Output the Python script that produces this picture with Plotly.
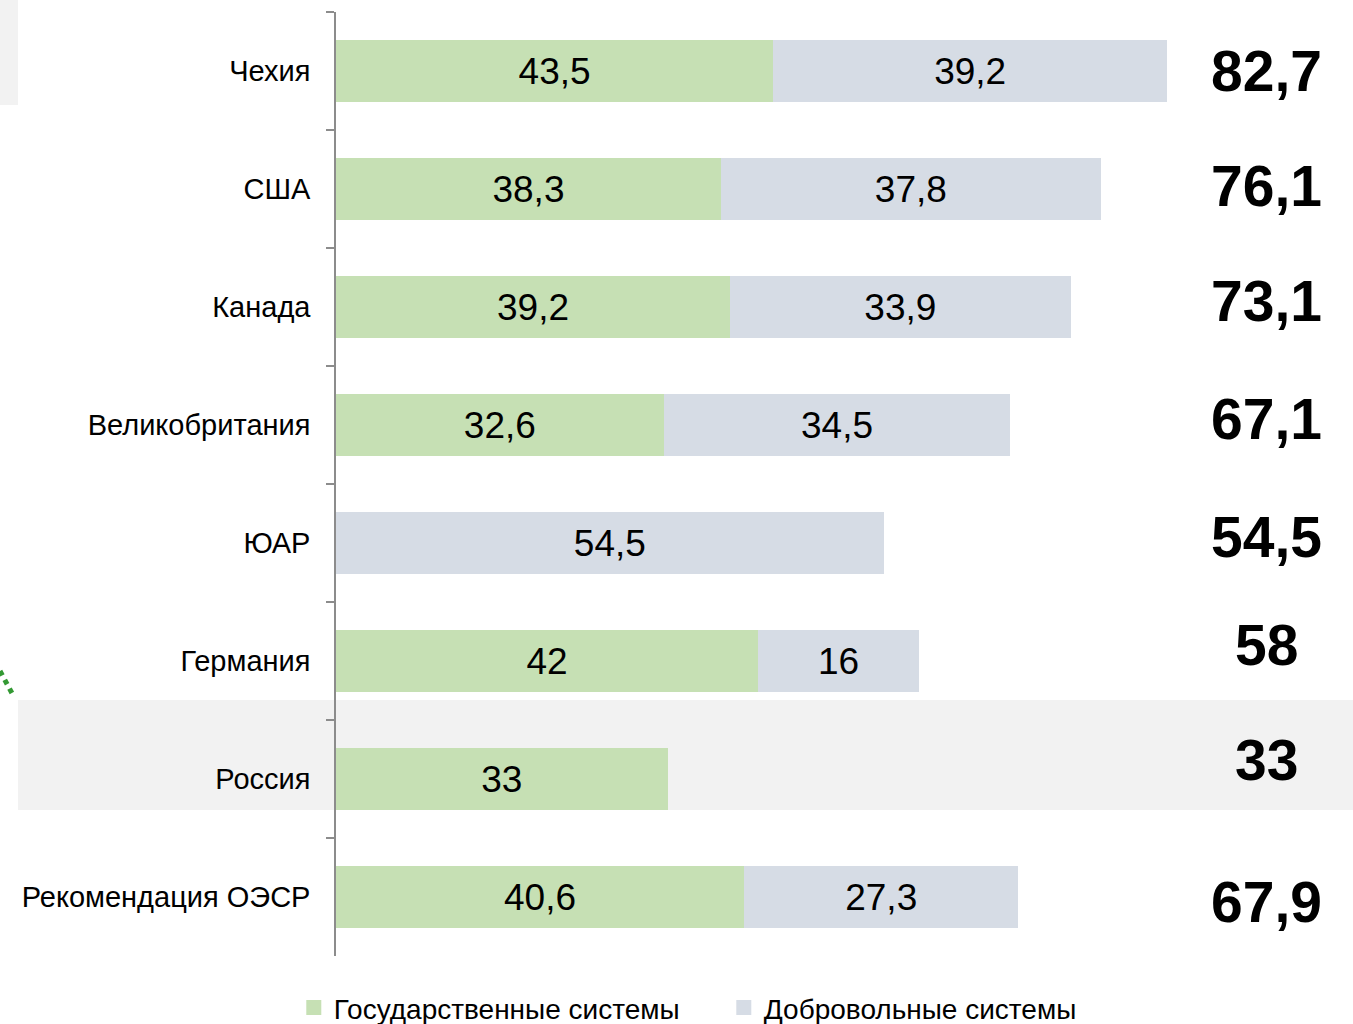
import plotly.graph_objects as go

categories = ["Чехия", "США", "Канада", "Великобритания", "ЮАР", "Германия", "Россия", "Рекомендация ОЭСР"]
state_values = [43.5, 38.3, 39.2, 32.6, None, 42, 33, 40.6]
voluntary_values = [39.2, 37.8, 33.9, 34.5, 54.5, 16, None, 27.3]
total_labels = ["82,7", "76,1", "73,1", "67,1", "54,5", "58", "33", "67,9"]
series_names = ["Государственные системы", "Добровольные системы"]

GREEN = "#C6E0B4"
GRAY = "#D6DCE5"
FONT = "Liberation Sans, Arial, sans-serif"

def fmt(v):
    if v is None:
        return ""
    return ("%g" % v).replace(".", ",")

fig = go.Figure()
for vals, name, color in [(state_values, series_names[0], GREEN),
                          (voluntary_values, series_names[1], GRAY)]:
    fig.add_trace(go.Bar(
        y=categories, x=vals, orientation="h", name=name,
        marker=dict(color=color, line=dict(width=0)),
        text=[fmt(v) for v in vals], textposition="inside",
        insidetextanchor="middle", textangle=0,
        textfont=dict(size=37, color="black", family=FONT),
        hoverinfo="skip", showlegend=False, legendgroup=name,
    ))
# legend entries with larger square swatches
for name, color in [(series_names[0], GREEN), (series_names[1], GRAY)]:
    fig.add_trace(go.Scatter(
        x=[None], y=[None], mode="markers", name=name, legendgroup=name,
        marker=dict(symbol="square", size=15, color=color, line=dict(width=0)),
        hoverinfo="skip", showlegend=True,
    ))

yshifts = [0, 3, 6, 6, 6, 16, 19, -5]
for cat, lab, ys in zip(categories, total_labels, yshifts):
    fig.add_annotation(x=92.6, y=cat, xref="x", yref="y", text="<b>%s</b>" % lab,
                       showarrow=False, yshift=ys,
                       font=dict(size=57, color="black", family=FONT))

# background decorations from the slide
fig.add_shape(type="rect", xref="paper", yref="paper", x0=-0.3164, x1=1.0119,
              y0=0.1547, y1=0.2712, fillcolor="#F2F2F2", line=dict(width=0), layer="below")
fig.add_shape(type="rect", xref="paper", yref="paper", x0=-0.3343, x1=-0.3164,
              y0=0.9015, y1=1.0127, fillcolor="#F2F2F2", line=dict(width=0), layer="below")
fig.add_shape(type="line", xref="paper", yref="paper", x0=-0.3343, x1=-0.3204,
              y0=0.3019, y1=0.2744, line=dict(color="#339933", width=5, dash="dot"))

fig.update_layout(
    width=1353, height=1024,
    barmode="stack", bargap=0.475,
    margin=dict(l=336, r=12, t=12, b=68, autoexpand=False),
    paper_bgcolor="white", plot_bgcolor="rgba(0,0,0,0)",
    font=dict(family=FONT, color="black"),
    showlegend=True,
    legend=dict(orientation="h", x=-0.042, xanchor="left", y=-0.055, yanchor="middle",
                traceorder="normal",
                font=dict(size=28, color="black", family=FONT),
                entrywidth=385, bgcolor="rgba(0,0,0,0)"),
    xaxis=dict(range=[0, 100], visible=False, fixedrange=True),
    yaxis=dict(autorange="reversed", showline=True, linecolor="#8C8C8C", linewidth=1.5,
               ticks="outside", ticklen=8, tickcolor="#8C8C8C", tickwidth=1.5,
               tickson="boundaries", ticklabelstandoff=18,
               tickfont=dict(size=29, color="black", family=FONT),
               showgrid=False, zeroline=False, fixedrange=True),
)

fig.write_html("out.html", config={"displayModeBar": False},
               post_script="document.body.style.margin='0';document.body.style.overflow='hidden';")
